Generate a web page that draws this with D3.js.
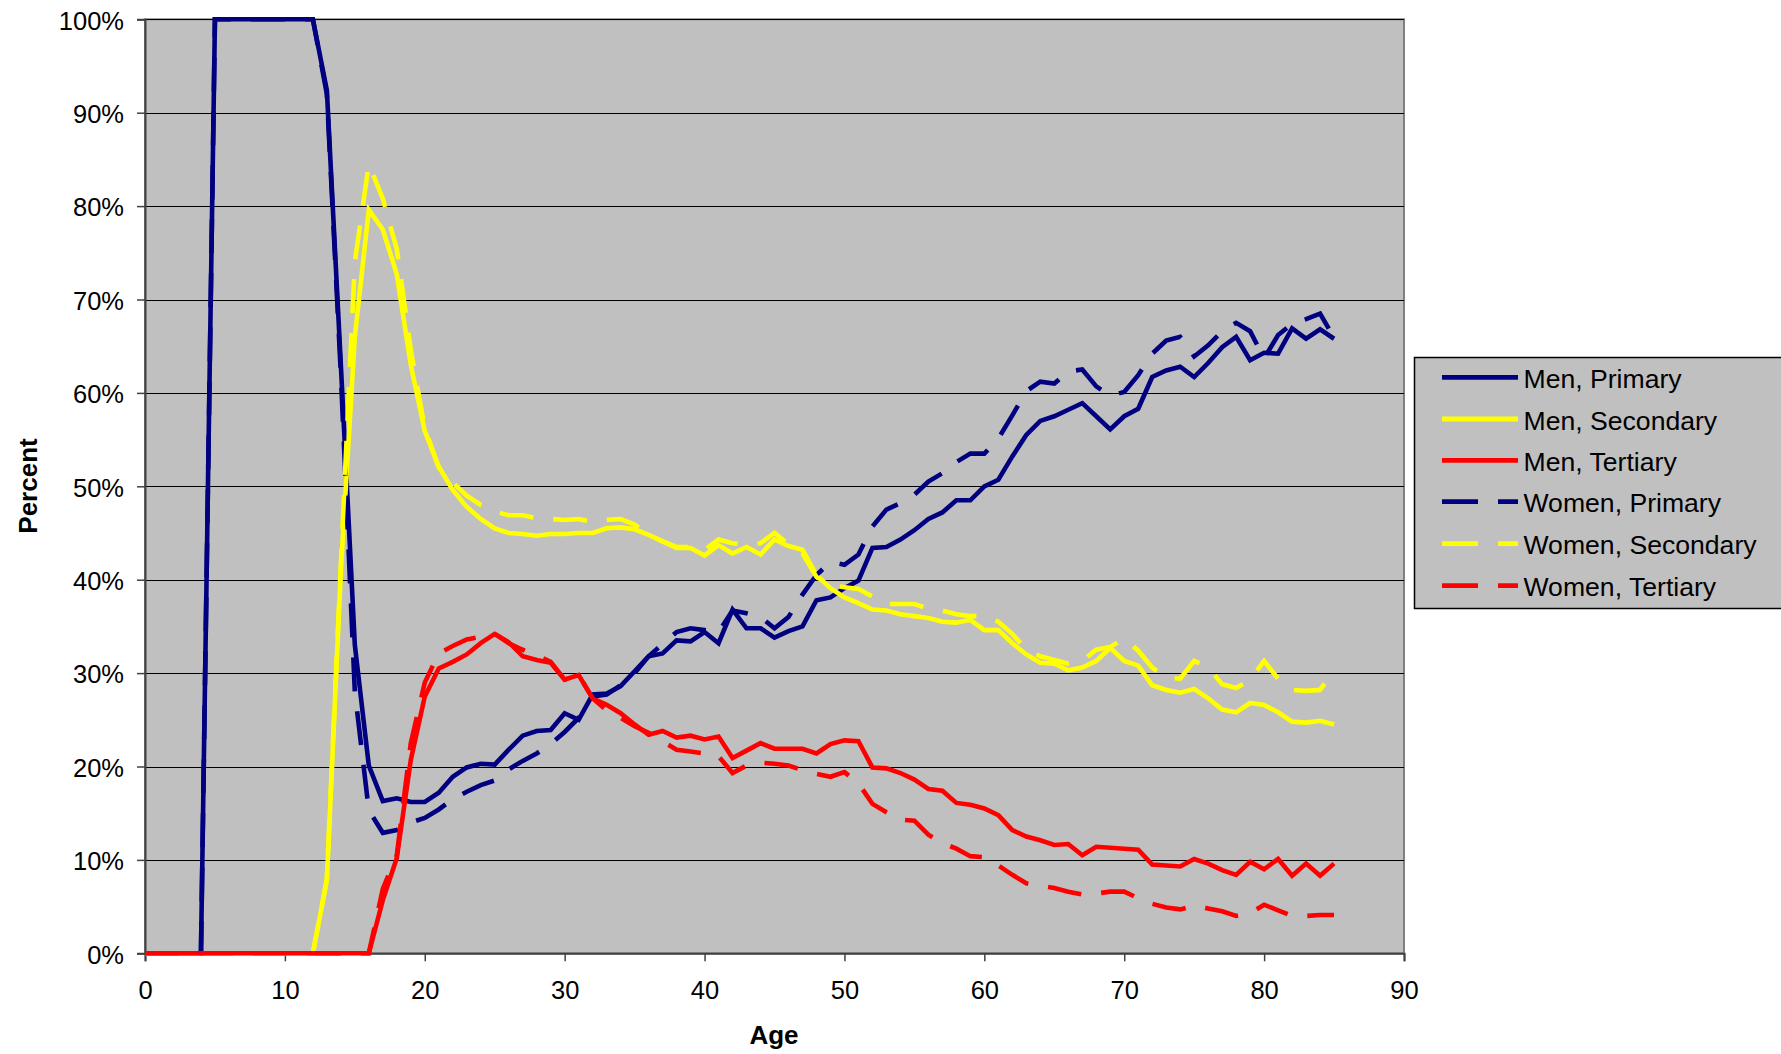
<!DOCTYPE html>
<html><head><meta charset="utf-8">
<script src="https://cdn.jsdelivr.net/npm/d3@7"></script>
<style>
html,body{margin:0;padding:0;background:#fff;}
svg{display:block;font-family:"Liberation Sans",Arial,sans-serif;}
</style>
</head><body>
<svg id="chart" width="1781" height="1054"></svg>
<script>
const ages = [0,1,2,3,4,5,6,7,8,9,10,11,12,13,14,15,16,17,18,19,20,21,22,23,24,25,26,27,28,29,30,31,32,33,34,35,36,37,38,39,40,41,42,43,44,45,46,47,48,49,50,51,52,53,54,55,56,57,58,59,60,61,62,63,64,65,66,67,68,69,70,71,72,73,74,75,76,77,78,79,80,81,82,83,84,85];

const menPrimary = [0,0,0,0,0,100,100,100,100,100,100,100,100,92.4,63,33,20.1,16.3,16.6,16.2,16.2,17.2,18.9,19.9,20.3,20.2,21.8,23.3,23.8,23.9,25.7,25.0,27.7,27.8,28.6,30.2,31.8,32.1,33.5,33.4,34.4,33.2,36.8,34.8,34.8,33.8,34.5,35.0,37.8,38.1,39.1,39.9,43.4,43.5,44.3,45.3,46.5,47.2,48.5,48.5,50.0,50.7,53.2,55.5,57.0,57.5,58.2,58.9,57.5,56.1,57.5,58.3,61.7,62.4,62.8,61.7,63.2,64.9,66.0,63.5,64.3,64.2,66.9,65.8,66.8,65.8];

const menSecondary = [0,0,0,0,0,0,0,0,0,0,0,0,0,7.8,41,66,79.6,77.5,72.7,63,55.9,52.1,49.6,47.8,46.5,45.5,45.0,44.9,44.7,44.9,44.9,45.0,45.0,45.5,45.6,45.4,44.8,44.1,43.4,43.4,42.6,43.7,42.8,43.5,42.7,44.3,43.6,43.2,40.5,39.1,38.1,37.5,36.8,36.7,36.3,36.1,35.9,35.5,35.4,35.7,34.6,34.6,33.2,32.0,31.1,31.0,30.3,30.6,31.3,32.7,31.3,30.8,28.7,28.2,27.9,28.3,27.3,26.1,25.8,26.8,26.6,25.8,24.8,24.7,24.9,24.5];

const menTertiary = [0,0,0,0,0,0,0,0,0,0,0,0,0,0,0,0,0,5.7,10.2,20.7,27.5,30.5,31.2,32.0,33.2,34.2,33.3,31.8,31.4,31.1,29.3,29.8,27.3,26.6,25.7,24.5,23.4,23.8,23.1,23.3,22.9,23.2,20.9,21.7,22.5,21.9,21.9,21.9,21.4,22.4,22.8,22.7,19.9,19.8,19.3,18.6,17.6,17.4,16.1,15.9,15.5,14.8,13.2,12.5,12.1,11.6,11.7,10.5,11.4,11.3,11.2,11.1,9.5,9.4,9.3,10.1,9.6,8.9,8.4,9.8,9.0,10.1,8.3,9.6,8.3,9.6];

const womenPrimary = [0,0,0,0,0,100,100,100,100,100,100,100,100,92.0,62,28,15.3,12.9,13.2,14.0,14.5,15.4,16.5,17.3,18.0,18.5,19.7,20.6,21.4,22.4,23.7,25.2,27.5,27.7,28.7,30.0,31.8,33.1,34.4,34.8,34.6,34.4,36.7,36.4,36.0,34.8,36.0,38.4,40.5,41.9,41.6,42.7,45.7,47.5,48.2,49.1,50.5,51.4,52.6,53.5,53.5,55.1,57.6,60.2,61.2,61.0,62.3,62.5,60.7,59.7,60.1,61.9,64.2,65.6,66.0,63.9,65.1,66.6,67.5,66.6,63.7,66.2,67.4,67.9,68.5,65.9];

const womenSecondary = [0,0,0,0,0,0,0,0,0,0,0,0,0,8.0,41.7,74,84.5,80.8,75.4,64.6,56.2,52.0,50.4,49.0,48.0,47.3,46.9,46.9,46.6,46.5,46.4,46.5,46.2,46.4,46.5,45.9,44.8,44.1,43.5,43.5,43.2,44.3,43.9,43.8,43.9,45.0,43.8,42.8,40.3,39.4,39.2,39.0,38.2,37.4,37.4,37.4,36.9,36.7,36.3,36.1,36.1,35.5,34.2,32.5,31.8,31.4,31.0,31.3,32.5,32.8,33.7,32.4,30.6,29.5,29.4,31.3,30.6,28.8,28.4,29.3,31.3,29.4,28.2,28.1,28.2,30.3];

const womenTertiary = [0,0,0,0,0,0,0,0,0,0,0,0,0,0,0,0,0,6.9,10.5,22.5,29.0,32.1,32.9,33.6,33.9,34.2,33.2,32.5,31.9,31.2,29.3,29.8,27.3,26.0,25.2,24.3,23.6,22.7,21.8,21.6,21.4,21.1,19.3,20.1,20.4,20.3,20.1,19.6,19.2,18.9,19.4,18.2,16.0,15.1,14.3,14.2,12.7,11.8,11.2,10.4,10.3,9.4,8.4,7.5,7.2,7.0,6.6,6.3,6.4,6.6,6.6,5.9,5.3,4.9,4.7,5.1,4.8,4.5,4.0,4.3,5.2,4.6,4.0,4.0,4.1,4.1];

const seriesNames = ["Men, Primary","Men, Secondary","Men, Tertiary","Women, Primary","Women, Secondary","Women, Tertiary"];
const seriesValues = [menPrimary, menSecondary, menTertiary, womenPrimary, womenSecondary, womenTertiary];
const seriesColors = ["#000080","#FFFF00","#FF0000","#000080","#FFFF00","#FF0000"];
const seriesDashed = [false,false,false,true,true,true];

const yTickValues = [0,10,20,30,40,50,60,70,80,90,100];
const xTickValues = [0,10,20,30,40,50,60,70,80,90];
const xTitle = "Age";
const yTitle = "Percent";

const m = {left:145, right:1404, top:19.3, bottom:953.3};
const x = d3.scaleLinear().domain([0,90]).range([m.left, m.right]);
const y = d3.scaleLinear().domain([0,100]).range([m.bottom, m.top]);
const svg = d3.select("#chart");

// plot area
svg.append("rect")
  .attr("x", m.left).attr("y", m.top)
  .attr("width", m.right - m.left).attr("height", m.bottom - m.top)
  .attr("fill", "#C0C0C0").attr("stroke", "#808080").attr("stroke-width", 2);

// gridlines
svg.append("g").selectAll("line")
  .data(yTickValues.filter(v => v > 0))
  .join("line")
  .attr("x1", m.left).attr("x2", m.right)
  .attr("y1", d => Math.round(y(d)) + 0.5).attr("y2", d => Math.round(y(d)) + 0.5)
  .attr("stroke", "#000").attr("stroke-width", 1);

// axes
const yAxis = d3.axisLeft(y).tickValues(yTickValues).tickFormat(d => d + "%").tickSize(8).tickPadding(13);
const gy = svg.append("g").attr("transform", `translate(${m.left},0)`).call(yAxis);
gy.selectAll("text").attr("font-size", 25.5).attr("fill", "#000").attr("dy", "0.38em")
  .attr("font-family", '"Liberation Sans",Arial,sans-serif');
const xAxis = d3.axisBottom(x).tickValues(xTickValues).tickSize(8).tickPadding(20);
const gx = svg.append("g").attr("transform", `translate(0,${m.bottom})`).call(xAxis);
gx.selectAll("text").attr("font-size", 25.5).attr("fill", "#000")
  .attr("font-family", '"Liberation Sans",Arial,sans-serif');
[gx, gy].forEach(g => {
  g.selectAll(".domain").attr("stroke", "#404040").attr("stroke-width", 2);
  g.selectAll(".tick line").attr("stroke", "#404040").attr("stroke-width", 1.5);
});

// series lines
const line = d3.line().x((d, i) => x(ages[i])).y(d => y(d));
const lg = svg.append("g");
seriesValues.forEach((vals, k) => {
  lg.append("path")
    .attr("d", line(vals))
    .attr("fill", "none")
    .attr("stroke", seriesColors[k])
    .attr("stroke-width", 4.6)
    .attr("stroke-linejoin", "miter")
    .attr("stroke-miterlimit", 3)
    .attr("stroke-dasharray", seriesDashed[k] ? "34,20" : null);
});

// axis titles
svg.append("text").attr("x", 774).attr("y", 1044).attr("text-anchor", "middle")
  .attr("font-size", 26).attr("font-weight", "bold").text(xTitle);
svg.append("text").attr("transform", "translate(37,486) rotate(-90)").attr("text-anchor", "middle")
  .attr("font-size", 26).attr("font-weight", "bold").text(yTitle);

// legend
const leg = svg.append("g");
leg.append("rect").attr("x", 1414.5).attr("y", 357.5).attr("width", 400).attr("height", 251)
  .attr("fill", "#C0C0C0").attr("stroke", "#000").attr("stroke-width", 1.5);
const rowY = [377.3, 419, 460.3, 501.7, 543.7, 585.7];
seriesNames.forEach((name, k) => {
  leg.append("line").attr("x1", 1442).attr("x2", 1518).attr("y1", rowY[k]).attr("y2", rowY[k])
    .attr("stroke", seriesColors[k]).attr("stroke-width", 4.8)
    .attr("stroke-dasharray", seriesDashed[k] ? "36,20" : null);
  leg.append("text").attr("x", 1523.5).attr("y", rowY[k] + 10.5)
    .attr("font-size", 26.6).attr("fill", "#000").text(name);
});
</script>
</body></html>
